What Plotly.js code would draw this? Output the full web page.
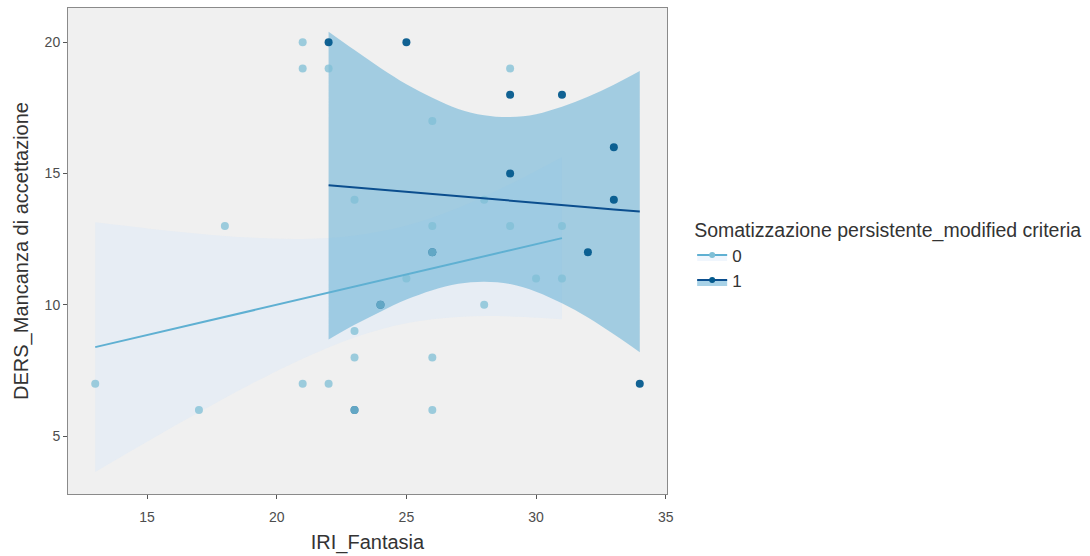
<!DOCTYPE html>
<html>
<head>
<meta charset="utf-8">
<script src="https://cdn.plot.ly/plotly-3.0.1.min.js"></script>
<style>html,body{margin:0;padding:0;background:#fff}#chart{width:1090px;height:556px}</style>
</head>
<body>
<div id="chart"></div>
<script>
// Observed points, group 0 (Somatizzazione persistente = 0)
const x_g0 = [21,21,22,29,26,23,28,18,26,29,31,25,30,31,28,23,26,23,13,21,22,17,26,23,24,26];
const y_g0 = [20,19,19,19,17,14,14,13,13,13,13,11,11,11,10,9,8,8,7,7,7,6,6,6,10,12];
// Observed points, group 1
const x_g1 = [22,25,29,31,33,29,33,32,34,24,26,23];
const y_g1 = [20,20,18,18,16,15,14,12,7,10,12,6];

// Linear fit and confidence band, group 0
const band0_x  = [13,15,17,19,21,23,25,27,29,31];
const band0_fit = [8.39,8.85,9.31,9.77,10.23,10.70,11.16,11.62,12.08,12.54];
const band0_lo = [3.64,4.79,5.91,6.98,7.95,8.76,9.30,9.54,9.56,9.45];
const band0_hi = [13.14,12.91,12.71,12.56,12.51,12.64,13.02,13.70,14.60,15.63];

// Linear fit and confidence band, group 1
const band1_x  = [22,23,24,25,26,27,28,29,30,31,32,33,34];
const band1_fit = [14.55,14.47,14.38,14.30,14.22,14.13,14.05,13.97,13.88,13.80,13.72,13.63,13.55];
const band1_lo = [8.68,9.24,9.74,10.20,10.56,10.80,10.88,10.79,10.50,10.06,9.52,8.88,8.20];
const band1_hi = [20.40,19.70,19.02,18.40,17.88,17.46,17.22,17.15,17.26,17.54,17.92,18.38,18.90];

const groupNames = ['0','1'];
const xTicks = [15,20,25,30,35];
const yTicks = [5,10,15,20];

const C0 = '#7fbfd6', C1 = '#045a8d';
const L0 = '#5fb0d2', L1 = '#0b4e8e';
const F0 = 'rgba(215,232,250,0.38)', F1 = 'rgba(110,180,215,0.6)';

const traces = [
  {x: band0_x, y: band0_lo, mode:'lines', line:{width:0, shape:'spline'}, showlegend:false, hoverinfo:'skip'},
  {x: band0_x, y: band0_hi, mode:'lines', line:{width:0, shape:'spline'}, fill:'tonexty', fillcolor:F0, showlegend:false, hoverinfo:'skip'},
  {x: band1_x, y: band1_lo, mode:'lines', line:{width:0, shape:'spline'}, showlegend:false, hoverinfo:'skip'},
  {x: band1_x, y: band1_hi, mode:'lines', line:{width:0, shape:'spline'}, fill:'tonexty', fillcolor:F1, showlegend:false, hoverinfo:'skip'},
  {x: x_g1, y: y_g1, mode:'markers', marker:{color:C1, size:8, opacity:0.95}, showlegend:false},
  {x: x_g0, y: y_g0, mode:'markers', marker:{color:C0, size:8, opacity:0.75}, showlegend:false},
  {x: band0_x, y: band0_fit, mode:'lines', line:{color:L0, width:2}, showlegend:false},
  {x: band1_x, y: band1_fit, mode:'lines', line:{color:L1, width:2}, showlegend:false},
  // legend entries
  {x:[null], y:[null], name: groupNames[0], mode:'lines+markers', line:{color:L0, width:2}, marker:{color:C0, size:6}, fill:'toself', fillcolor:F0},
  {x:[null], y:[null], name: groupNames[1], mode:'lines+markers', line:{color:L1, width:2}, marker:{color:C1, size:6}, fill:'toself', fillcolor:F1}
];

const axisCommon = {
  showgrid:false, zeroline:false, showline:true, mirror:true, linecolor:'#8a8a8a', linewidth:1,
  ticks:'outside', ticklen:4, tickcolor:'#555', tickwidth:1,
  tickfont:{family:'Liberation Sans, Arial, sans-serif', size:14, color:'#4d4d4d'}
};

const layout = {
  width:1090, height:556,
  margin:{l:68, r:423, t:8, b:62, autoexpand:false},
  paper_bgcolor:'#ffffff', plot_bgcolor:'#f0f0f0',
  font:{family:'Liberation Sans, Arial, sans-serif', color:'#333'},
  xaxis: Object.assign({}, axisCommon, {
    range:[11.95,35.05], tickvals:xTicks, ticktext:xTicks.map(String), ticklabelstandoff:6,
    title:{text:'IRI_Fantasia', font:{size:20, color:'#333'}, standoff:11}
  }),
  yaxis: Object.assign({}, axisCommon, {
    range:[2.8,21.3], tickvals:yTicks, ticktext:yTicks.map(String),
    title:{text:'DERS_Mancanza di accettazione', font:{size:20, color:'#333'}, standoff:10}
  }),
  showlegend:true,
  legend:{
    x:1.042, xanchor:'left', y:0.58, yanchor:'top', traceorder:'normal',
    bgcolor:'rgba(0,0,0,0)', itemwidth:30, tracegroupgap:0,
    font:{size:17, color:'#333'},
    title:{text:'Somatizzazione persistente_modified criteria', side:'top', font:{size:19.5, color:'#333'}}
  }
};

Plotly.newPlot('chart', traces, layout, {displayModeBar:false, staticPlot:true});
</script>
</body>
</html>
